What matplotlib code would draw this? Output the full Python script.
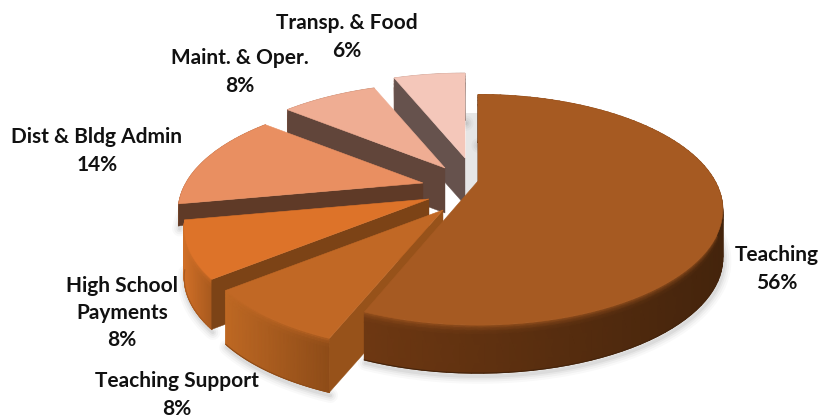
import numpy as np
import matplotlib
matplotlib.use("Agg")
import matplotlib.pyplot as plt
from matplotlib.colors import to_rgb

# data, clockwise from 12 o'clock
labels = ["Teaching", "Teaching Support", "High School\nPayments", "Dist & Bldg Admin", "Maint. & Oper.", "Transp. & Food"]
values = [56, 8, 8, 14, 8, 6]

# look of each slice
tops = ["#A65A22", "#C16825", "#DD7329", "#E98F61", "#EFAD93", "#F4C7BA"]
rim_left = ["#6E3812", "#BE6823", "#D06F27", "#8A5230", "#8A5A45", "#8A6A60"]
rim_right = ["#44240C", "#8E4C18", "#A85A1E", "#6A4028", "#6A4C3C", "#6A554E"]
cuts = ["#5A2E10", "#97521A", "#7C4316", "#5F3A27", "#61453A", "#66524D"]
anchors = [(478, 181), (443, 210), (429, 199), (423, 183), (445, 168), (465, 158)]
depths = [48, 54, 50, 22, 45, 47]
squash = [1.02, 1, 1, 1, 1, 1]
label_pos = [(777, 269), (177, 395), (122, 313), (97, 151), (240, 72), (347, 37)]

R = 237
T = 106
P = 0.25


def proj(anchor, theta, sq=1.0):
    u = np.sin(theta)
    v = np.cos(theta)
    s = 1 / (1 + P * v)
    return anchor[0] + R * u * s, anchor[1] - T * sq * v * s


def mix(a, b, t):
    a = np.array(to_rgb(a))
    b = np.array(to_rgb(b))
    return a + (b - a) * t


fig = plt.figure(figsize=(8.33, 4.17), dpi=100)
ax = fig.add_axes([0, 0, 1, 1])
ax.set_xlim(0, 833)
ax.set_ylim(417, 0)
ax.axis("off")

edges = np.cumsum([0] + values) / sum(values) * 2 * np.pi
bevel = [0.7, 0.35, 0.1, 0, 0]

# grey shadow behind the Transp. slice
ax.fill([466, 478, 478, 465], [113, 113, 188, 205], color="#E6E6E6", lw=0, zorder=5)

# far slices first, Teaching goes on top at the end
for i in [5, 4, 3, 2, 1, 0]:
    zo = 10 + (5 - i) * 10
    a = anchors[i]
    d = depths[i]
    th = np.linspace(edges[i], edges[i + 1], 90)
    x, y = proj(a, th, squash[i])

    # soft shadow under the outer edge
    for lw, al in [(11, 0.025), (8, 0.03), (5, 0.04), (2.5, 0.05)]:
        ax.plot(x + 1, y + d + 3, color="k", lw=lw, alpha=al, solid_capstyle="round", zorder=zo)

    # outer rim, smooth gradient, darker towards the right, small bevel at the top
    bands = np.array([0, 3, 6, 10, d], dtype=float)
    t = (x - x.min()) / max(x.max() - x.min(), 1)
    X = np.array([x for b in bands])
    Y = np.array([y + b for b in bands])
    C = np.zeros((len(bands), len(th), 3))
    for b in range(len(bands)):
        for k in range(len(th)):
            C[b, k] = mix(mix(rim_left[i], rim_right[i], t[k]), tops[i], bevel[b])
    ax.pcolormesh(X, Y, C, shading="gouraud", zorder=zo + 1)
    ax.plot(x, y + d, color=rim_right[i], lw=0.8, zorder=zo + 1)

    # cut face at the start angle
    x0, y0 = proj(a, edges[i], squash[i])
    face = [(a[0], a[1]), (x0, y0), (x0, y0 + d), (a[0], a[1] + d)]
    ax.fill(*zip(*face), color=cuts[i], lw=0.3, zorder=zo + 2)

    # top face
    ax.fill(np.r_[a[0], x], np.r_[a[1], y], color=tops[i], lw=0.4, zorder=zo + 3)

for i in range(len(values)):
    ax.text(label_pos[i][0], label_pos[i][1], labels[i] + "\n" + str(values[i]) + "%", ha="center", va="center",
            family="Lato", weight="bold", fontsize=15, color="#111111", linespacing=1.45, zorder=100)

fig.savefig("out.png", dpi=100)
